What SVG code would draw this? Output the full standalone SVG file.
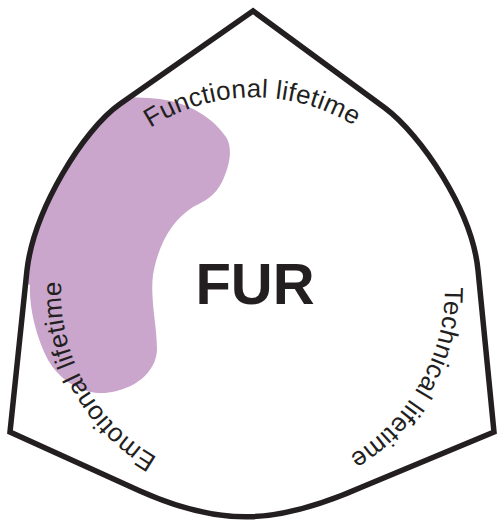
<svg xmlns="http://www.w3.org/2000/svg" xmlns:xlink="http://www.w3.org/1999/xlink" width="500" height="522" viewBox="0 0 500 522">
  <style>
    .outline { fill: none; stroke: #231f20; stroke-width: 5.5; stroke-linejoin: miter; }
    .blob { fill: #caa6cd; }
    .arc-label { font-family: "Liberation Sans", Arial, sans-serif; font-size: 26px; fill: #231f20; letter-spacing: 0.3px; }
    .title { font-family: "Liberation Sans", Arial, sans-serif; font-size: 58px; font-weight: bold; fill: #231f20; }
  </style>
  <defs>
    <path id="shapePath" d="M253,11 L120,104 C83,130 34,210 27,270 L10,432 L140,491 C223,528 278,524 362,487 L494,432 L478,270 C472,210 421,135 385,108 Z"/>
    <clipPath id="shapeClip">
      <use xlink:href="#shapePath"/>
    </clipPath>
    <path id="labelCircle" d="M87.6,194.5 A191,191 0 1,1 418.4,385.5 A191,191 0 1,1 87.6,194.5"/>
  </defs>

  <g id="emotional-area">
    <path class="blob" clip-path="url(#shapeClip)" d="M110,95 C130,98 145,97 160,99 C190,103 213,118 226,137 C233,148 230,165 222,182 C215,196 205,201 193,207 C172,220 158,245 153,275 C150,300 157,325 157,350 C156,372 135,390 105,393 C80,394 60,380 48,360 C35,335 29,305 30,285 L0,270 L0,95 Z"/>
  </g>

  <g id="outline">
    <use xlink:href="#shapePath" class="outline"/>
  </g>

  <g id="fur">
    <text class="title" x="255" y="304" text-anchor="middle">FUR</text>
  </g>

  <g id="functional-lifetime">
    <text class="arc-label"><textPath xlink:href="#labelCircle" startOffset="200" text-anchor="middle">Functional lifetime</textPath></text>
  </g>

  <g id="technical-lifetime">
    <text class="arc-label"><textPath xlink:href="#labelCircle" startOffset="602" text-anchor="middle">Technical lifetime</textPath></text>
  </g>

  <g id="emotional-lifetime">
    <text class="arc-label"><textPath xlink:href="#labelCircle" startOffset="1010" text-anchor="middle">Emotional lifetime</textPath></text>
  </g>
</svg>
